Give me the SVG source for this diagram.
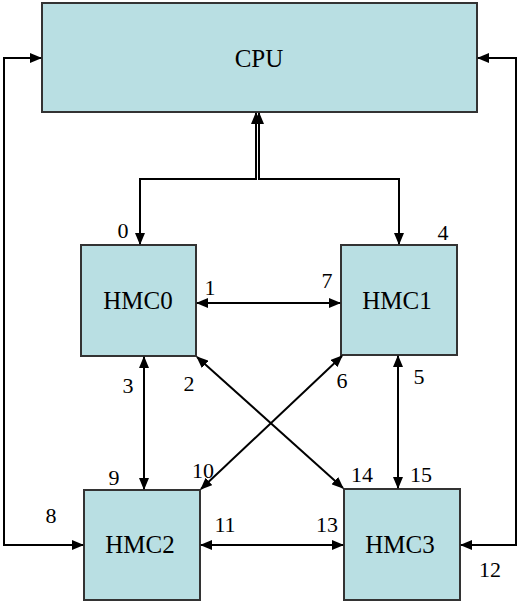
<svg xmlns="http://www.w3.org/2000/svg" width="520" height="602" viewBox="0 0 520 602">
<style>
.box{fill:#b9dfe3;stroke:#333;stroke-width:2}
.nt{font-size:25px;fill:#000;text-anchor:middle}
.lb{font-size:22px;fill:#000;text-anchor:middle}
.c{fill:none;stroke:#000;stroke-width:2}
</style>
<defs>
<marker id="ah" markerWidth="12" markerHeight="10" refX="11" refY="5" orient="auto-start-reverse" markerUnits="userSpaceOnUse">
<path d="M0,0 L12,5 L0,10 Z" fill="#000"/>
</marker>
</defs>
<rect width="520" height="602" fill="#fff"/>
<g font-family="Liberation Serif, Times New Roman, DejaVu Serif, serif">
<g id="CPU"><rect class="box" x="42" y="3" width="435" height="109"/><text class="nt" x="259" y="67">CPU</text></g>
<g id="HMC0"><rect class="box" x="81" y="245" width="115" height="111"/><text class="nt" x="138" y="309">HMC0</text></g>
<g id="HMC1"><rect class="box" x="341" y="245" width="116" height="110"/><text class="nt" x="397" y="309">HMC1</text></g>
<g id="HMC2"><rect class="box" x="84" y="490" width="116" height="110"/><text class="nt" x="140" y="553">HMC2</text></g>
<g id="HMC3"><rect class="box" x="344" y="489" width="116" height="111"/><text class="nt" x="400" y="553">HMC3</text></g>
<g id="connectors">
<path class="c" d="M256,113 L256,179 L140,179 L140,244" marker-start="url(#ah)" marker-end="url(#ah)"/>
<path class="c" d="M259,113 L259,179 L399,179 L399,244" marker-start="url(#ah)" marker-end="url(#ah)"/>
<path class="c" d="M41,58 L4,58 L4,545 L83,545" marker-start="url(#ah)" marker-end="url(#ah)"/>
<path class="c" d="M478,58 L516,58 L516,545 L461,545" marker-start="url(#ah)" marker-end="url(#ah)"/>
<path class="c" d="M197,303 L340,303" marker-start="url(#ah)" marker-end="url(#ah)"/>
<path class="c" d="M201,545 L343,545" marker-start="url(#ah)" marker-end="url(#ah)"/>
<path class="c" d="M144,357 L144,489" marker-start="url(#ah)" marker-end="url(#ah)"/>
<path class="c" d="M398,356 L398,488" marker-start="url(#ah)" marker-end="url(#ah)"/>
<path class="c" d="M197,357 L343,488" marker-start="url(#ah)" marker-end="url(#ah)"/>
<path class="c" d="M342,356 L201,489" marker-start="url(#ah)" marker-end="url(#ah)"/>
</g>
<g id="labels">
<text class="lb" x="123" y="238">0</text>
<text class="lb" x="443" y="240">4</text>
<text class="lb" x="210" y="295">1</text>
<text class="lb" x="327" y="288">7</text>
<text class="lb" x="128" y="393">3</text>
<text class="lb" x="189" y="391">2</text>
<text class="lb" x="342" y="388">6</text>
<text class="lb" x="419" y="384">5</text>
<text class="lb" x="114" y="485">9</text>
<text class="lb" x="203" y="478">10</text>
<text class="lb" x="362" y="482">14</text>
<text class="lb" x="421" y="482">15</text>
<text class="lb" x="51" y="523">8</text>
<text class="lb" x="225" y="532">11</text>
<text class="lb" x="327" y="532">13</text>
<text class="lb" x="490" y="577">12</text>
</g>
</g>
</svg>
